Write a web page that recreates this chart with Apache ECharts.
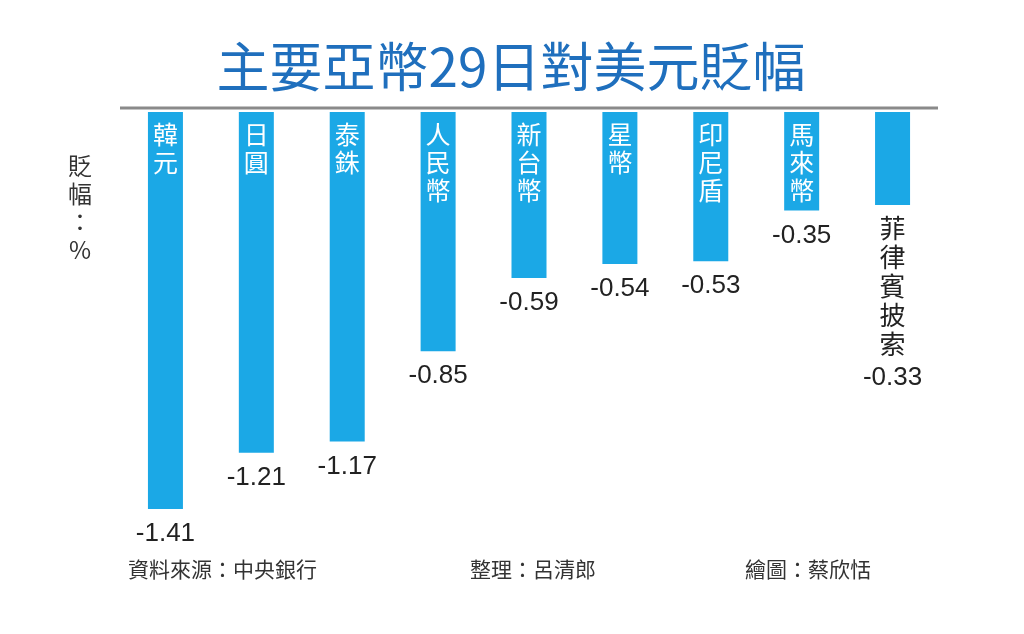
<!DOCTYPE html>
<html>
<head>
<meta charset="utf-8">
<script src="https://cdn.jsdelivr.net/npm/echarts@6/dist/echarts.min.js"></script>
<style>
  html, body { margin: 0; padding: 0; background: #fff; }
  #chart { width: 1024px; height: 634px; }
</style>
</head>
<body>
<div id="chart"></div>
<script>
// 幣別與貶幅（%）
var currencies = ['韓元', '日圓', '泰銖', '人民幣', '新台幣', '星幣', '印尼盾', '馬來幣', '菲律賓披索'];
var changes = [-1.41, -1.21, -1.17, -0.85, -0.59, -0.54, -0.53, -0.35, -0.33];
var footNotes = ['資料來源：中央銀行', '整理：呂清郎', '繪圖：蔡欣恬'];

var cjk = 'Noto Sans CJK TC';
var numFont = 'Liberation Sans, Noto Sans CJK TC';
var barColor = '#1ba8e6';

// 名稱直排
function vertical(name) {
    return name.split('').join('\n');
}

var chart = echarts.init(document.getElementById('chart'));

// 最後一根太短，名稱放在柱子下方
var lastIdx = currencies.length - 1;

var nameData = changes.map(function (v, i) {
    var item = { value: v };
    if (i === lastIdx) {
        item.label = { show: false };
    }
    return item;
});

var valueData = changes.map(function (v, i) {
    var item = { value: v };
    if (i === lastIdx) {
        item.label = {
            distance: 9,
            formatter: function () {
                var chars = currencies[lastIdx].split('').map(function (c) {
                    return '{n|' + c + '}';
                });
                return chars.join('\n') + '\n{v|' + v.toFixed(2) + '}';
            },
            rich: {
                n: { fontFamily: cjk, fontSize: 26, lineHeight: 29, color: '#222' },
                v: { fontFamily: numFont, fontSize: 26, lineHeight: 30, color: '#222', padding: [7, 0, 0, 0] }
            }
        };
    }
    return item;
});

var option = {
    animation: false,
    backgroundColor: '#fff',
    title: {
        text: '主要亞幣29日對美元貶幅',
        left: 506,
        top: 35,
        textAlign: 'center',
        textStyle: {
            fontFamily: cjk,
            fontSize: 53,
            fontWeight: 'normal',
            color: '#1f6fbd'
        }
    },
    grid: { left: 120, right: 86, top: 112, bottom: 125 },
    xAxis: {
        type: 'category',
        position: 'top',
        data: currencies,
        axisLine: { show: false },
        axisTick: { show: false },
        axisLabel: { show: false }
    },
    yAxis: {
        type: 'value',
        min: -1.41,
        max: 0,
        show: false
    },
    series: [
        {
            type: 'bar',
            data: nameData,
            barWidth: 35,
            itemStyle: { color: barColor },
            label: {
                show: true,
                position: 'insideTop',
                distance: 8,
                color: '#fff',
                fontFamily: cjk,
                fontSize: 25,
                lineHeight: 28,
                formatter: function (p) { return vertical(p.name); }
            }
        },
        {
            type: 'bar',
            data: valueData,
            barWidth: 35,
            barGap: '-100%',
            itemStyle: { color: 'rgba(0,0,0,0)' },
            label: {
                show: true,
                position: 'bottom',
                distance: 12,
                color: '#222',
                fontFamily: numFont,
                fontSize: 26,
                formatter: function (p) { return p.value.toFixed(2); }
            }
        }
    ],
    graphic: [
        {
            // 標題下的灰線
            type: 'line',
            shape: { x1: 120, y1: 108, x2: 938, y2: 108 },
            style: { stroke: '#8a8a8a', lineWidth: 3 }
        },
        {
            type: 'text',
            left: 68,
            top: 152,
            style: {
                text: '貶\n幅\n：\n%',
                font: '24px "Noto Sans CJK TC"',
                fill: '#333',
                lineHeight: 28,
                textAlign: 'center'
            }
        },
        {
            type: 'text', left: 128, top: 559,
            style: { text: footNotes[0], font: '21px "Noto Sans CJK TC"', fill: '#333' }
        },
        {
            type: 'text', left: 470, top: 559,
            style: { text: footNotes[1], font: '21px "Noto Sans CJK TC"', fill: '#333' }
        },
        {
            type: 'text', left: 745, top: 559,
            style: { text: footNotes[2], font: '21px "Noto Sans CJK TC"', fill: '#333' }
        }
    ]
};

chart.setOption(option);
</script>
</body>
</html>
